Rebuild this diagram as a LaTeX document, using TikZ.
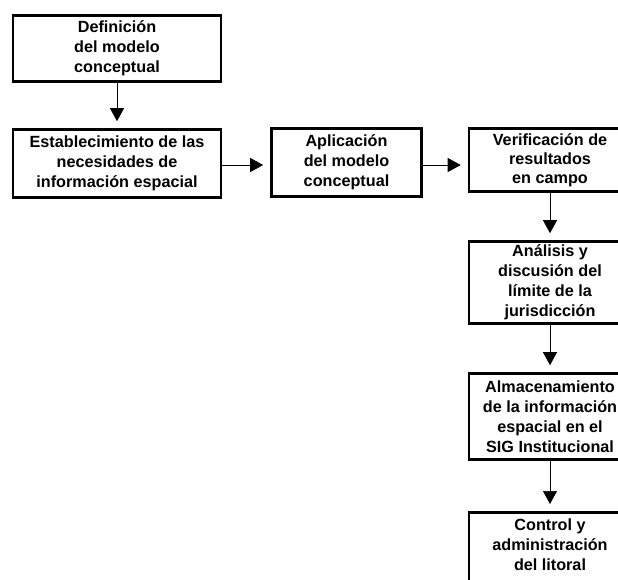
\documentclass[tikz,border=0pt]{standalone}
\usepackage{fontspec}
\setmainfont{Liberation Sans}
\usetikzlibrary{arrows.meta}

\begin{document}
\begin{tikzpicture}[x=1pt, y=-1pt,
  caja/.style={draw, line width=2.6pt, align=center, inner sep=0pt,
    font=\fontsize{16.2}{20}\selectfont\bfseries},
  flecha/.style={-{Triangle[length=13pt,width=14pt]}, line width=0.7pt, shorten >=7pt}]
\useasboundingbox (0,0) rectangle (618,579);
\clip (0,0) rectangle (618,579);

\node[caja, minimum width=208pt, minimum height=66pt] (defin) at (117,48.5) {Definición\\del modelo\\conceptual};
\node[caja, minimum width=208pt, minimum height=68pt] (estab) at (117,163.5) {Establecimiento de las\\necesidades de\\información espacial};
\node[caja, minimum width=150pt, minimum height=68pt] (aplic) at (346.5,162.5) {Aplicación\\del modelo\\conceptual};
\node[caja, minimum width=162pt, minimum height=63pt,
  font=\fontsize{16.2}{19}\selectfont\bfseries] (verif) at (550,160) {Verificación de\\resultados\\en campo};
\node[caja, minimum width=162pt, minimum height=82pt] (anal) at (550,282.5) {Análisis y\\discusión del\\límite de la\\jurisdicción};
\node[caja, minimum width=162pt, minimum height=86pt] (almac) at (550,416.5) {Almacenamiento\\de la información\\espacial en el\\SIG Institucional};
\node[caja, minimum width=162pt, minimum height=80pt, text depth=16pt, anchor=north] (control) at (550,511) {Control y\\administración\\del litoral};

\draw[flecha] (defin) -- (estab);
\draw[flecha] (estab.east |- 0,165) -- (aplic.west |- 0,165);
\draw[flecha] (aplic.east |- 0,165) -- (verif.west |- 0,165);
\draw[flecha] (verif) -- (anal);
\draw[flecha] (anal) -- (almac);
\draw[flecha] (almac) -- (control);
\end{tikzpicture}
\end{document}
